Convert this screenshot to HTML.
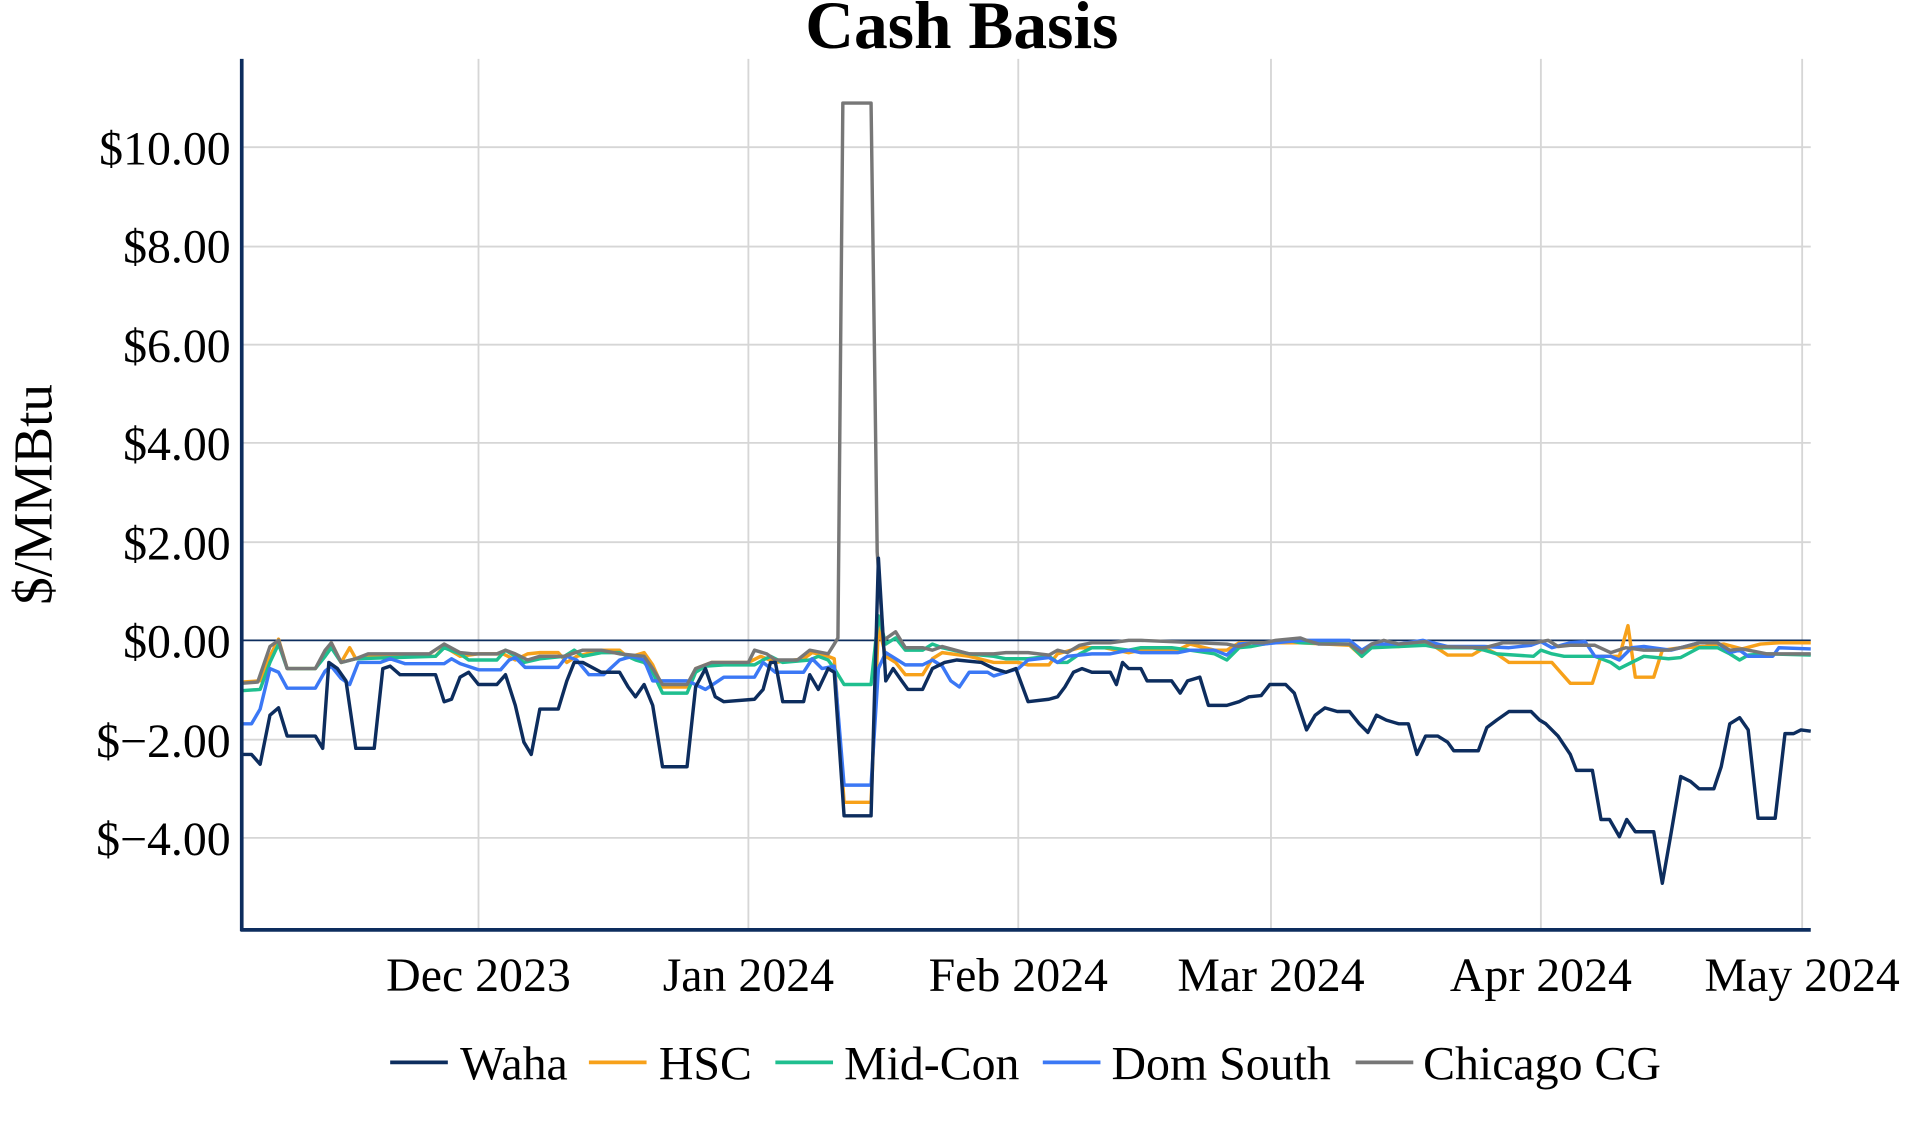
<!DOCTYPE html>
<html><head><meta charset="utf-8"><style>html,body{margin:0;padding:0;background:#fff}svg{display:block}</style></head>
<body>
<svg width="1920" height="1128" viewBox="0 0 1565 919.5" xmlns="http://www.w3.org/2000/svg" font-family="Liberation Serif, serif">
<g stroke="#d6d6d6" stroke-width="1.5">
<line x1="390" y1="48" x2="390" y2="758"/><line x1="610" y1="48" x2="610" y2="758"/><line x1="830" y1="48" x2="830" y2="758"/><line x1="1036" y1="48" x2="1036" y2="758"/><line x1="1256" y1="48" x2="1256" y2="758"/><line x1="1469" y1="48" x2="1469" y2="758"/>
<line x1="197" y1="683" x2="1476" y2="683"/><line x1="197" y1="603" x2="1476" y2="603"/><line x1="197" y1="442" x2="1476" y2="442"/><line x1="197" y1="361" x2="1476" y2="361"/><line x1="197" y1="281" x2="1476" y2="281"/><line x1="197" y1="201" x2="1476" y2="201"/><line x1="197" y1="120" x2="1476" y2="120"/>
</g>
<line x1="197" y1="522" x2="1476" y2="522" stroke="#0d2d5e" stroke-width="1.5"/>
<g fill="none" stroke-width="2.8" stroke-linejoin="round">
<polyline stroke="#f7a11a" points="197,556 212,555 220,535 227,521 234,545 257,545 265,533 270,524 278,540 285,528 290,537 300,535 355,535 362,527 375,535 390,533 410,533 420,538 430,533 440,532 455,532 462,540 470,535 490,530 505,530 512,536 525,532 532,542 540,560 560,560 567,545 580,540 610,540 620,535 632,540 655,537 662,532 675,535 680,537 688,654 710,654 716,510 722,535 730,540 738,550 752,550 760,537 768,532 790,535 810,540 830,540 838,542 855,542 862,533 880,528 900,528 920,532 930,530 960,530 970,525 990,530 1000,530 1010,524 1030,524 1060,524 1100,526 1110,535 1118,527 1140,527 1165,524 1180,534 1200,534 1210,528 1220,533 1230,540 1248,540 1256,540 1265,540 1272,548 1280,557 1298,557 1305,535 1320,535 1327,510 1333,552 1348,552 1355,530 1370,528 1390,527 1405,525 1420,529 1435,525 1450,524 1476,524"/>
<polyline stroke="#1fbf8f" points="197,563 212,562 220,540 227,525 234,545 257,545 265,535 270,528 278,540 290,537 355,535 362,528 375,533 382,538 405,538 412,530 420,535 427,540 440,537 460,535 468,530 475,535 490,532 505,532 518,538 525,540 532,548 540,565 560,565 567,548 575,543 590,542 615,542 622,538 628,535 638,540 660,538 667,535 675,538 680,545 688,558 710,558 716,502 722,525 730,520 738,530 752,530 760,525 768,528 790,533 810,535 820,537 838,537 855,535 862,540 870,540 880,533 890,528 905,528 920,530 930,528 955,528 970,530 990,533 1000,538 1010,528 1020,527 1030,525 1050,522 1060,524 1100,525 1110,535 1118,528 1140,527 1162,526 1172,528 1200,528 1210,530 1220,533 1250,535 1256,530 1265,533 1275,535 1300,535 1313,540 1320,545 1330,540 1340,535 1360,537 1370,536 1385,528 1400,528 1410,533 1418,538 1425,534 1440,533 1476,534"/>
<polyline stroke="#3b78f5" points="197,590 205,590 212,578 220,545 227,548 234,561 257,561 265,547 270,543 278,553 285,558 292,540 310,540 318,537 330,541 362,541 368,537 375,541 390,546 408,546 415,538 420,536 428,544 455,544 462,535 470,538 480,550 492,550 505,538 515,535 525,538 532,555 560,555 567,558 575,562 590,552 615,552 622,540 632,548 655,548 662,537 670,545 680,543 688,640 710,640 716,545 722,532 730,537 738,542 752,542 760,538 768,543 775,555 782,560 790,548 805,548 810,551 820,548 830,545 838,538 855,536 862,540 870,535 890,533 905,533 920,530 930,532 960,532 970,530 990,530 1000,534 1010,525 1020,524 1030,525 1050,523 1060,522 1100,522 1110,530 1118,525 1140,525 1160,522 1180,527 1210,527 1230,528 1248,526 1256,523 1265,528 1280,524 1292,523 1300,535 1313,535 1320,538 1330,528 1340,527 1362,530 1370,528 1385,524 1400,524 1410,532 1418,530 1425,535 1445,535 1450,528 1476,529"/>
<polyline stroke="#777777" points="197,557 210,556 220,527 227,522 234,545 257,545 265,530 270,524 278,540 290,537 300,533 350,533 362,525 375,532 385,533 405,533 412,530 420,533 430,538 440,535 460,535 475,530 490,530 505,533 525,535 532,545 540,558 560,558 567,545 580,540 610,540 615,530 625,533 632,538 650,538 660,530 675,533 680,525 683,520 687,84 710,84 715,450 720,522 730,515 738,528 752,528 760,530 768,527 790,533 810,533 820,532 838,532 855,534 862,530 870,532 880,526 890,524 905,524 920,522 930,522 1000,525 1010,527 1020,524 1030,524 1040,522 1060,520 1065,522 1075,525 1100,525 1110,532 1118,525 1128,522 1140,525 1162,523 1170,527 1210,528 1225,524 1250,524 1262,522 1270,527 1280,526 1300,526 1313,532 1325,528 1340,530 1360,530 1370,528 1385,524 1400,524 1410,530 1420,529 1440,533 1476,533"/>
<polyline stroke="#0d2d5e" points="197,615 205,615 212,623 220,583 227,577 234,600 257,600 263,610 268,540 275,545 282,555 290,610 305,610 312,545 318,543 326,550 355,550 362,572 368,570 375,552 382,548 390,558 405,558 412,550 420,575 427,605 433,615 440,578 455,578 462,555 468,540 475,540 490,548 505,548 512,560 518,568 525,558 532,575 540,625 560,625 567,560 575,545 583,568 590,572 615,570 622,562 628,540 632,540 638,572 655,572 660,550 667,562 675,545 680,548 688,665 710,665 716,455 722,555 728,545 735,555 740,562 752,562 760,545 770,540 780,538 800,540 810,545 820,548 828,545 838,572 855,570 862,568 868,560 875,548 882,545 890,548 905,548 910,558 915,540 920,545 930,545 935,555 955,555 962,565 968,555 978,552 985,575 1000,575 1010,572 1018,568 1028,567 1035,558 1048,558 1055,565 1065,595 1072,583 1080,577 1090,580 1100,580 1108,590 1115,597 1122,583 1130,587 1140,590 1148,590 1155,615 1162,600 1172,600 1180,605 1185,612 1205,612 1212,593 1220,587 1230,580 1248,580 1255,587 1260,590 1270,600 1280,615 1285,628 1298,628 1305,668 1312,668 1320,682 1326,668 1333,678 1348,678 1355,720 1362,680 1370,633 1378,637 1385,643 1397,643 1403,625 1410,590 1418,585 1425,595 1433,667 1447,667 1455,598 1462,598 1468,595 1476,596"/>
</g>
<line x1="197" y1="48" x2="197" y2="759" stroke="#0d2d5e" stroke-width="3"/>
<line x1="196" y1="758" x2="1476" y2="758" stroke="#0d2d5e" stroke-width="3"/>
<text x="784" y="39" text-anchor="middle" font-size="55" font-weight="bold">Cash Basis</text>
<g font-size="39" text-anchor="end">
<text x="188" y="134">$10.00</text><text x="188" y="214">$8.00</text><text x="188" y="295">$6.00</text><text x="188" y="375">$4.00</text><text x="188" y="456">$2.00</text><text x="188" y="536">$0.00</text><text x="188" y="617">$−2.00</text><text x="188" y="697">$−4.00</text>
</g>
<text transform="translate(42,403) rotate(-90)" text-anchor="middle" font-size="45">$/MMBtu</text>
<g font-size="39" text-anchor="middle">
<text x="390" y="808">Dec 2023</text><text x="610" y="808">Jan 2024</text><text x="830" y="808">Feb 2024</text><text x="1036" y="808">Mar 2024</text><text x="1256" y="808">Apr 2024</text><text x="1469" y="808">May 2024</text>
</g>
<g stroke-width="3">
<line x1="318" y1="866" x2="365" y2="866" stroke="#0d2d5e"/><line x1="480" y1="866" x2="527" y2="866" stroke="#f7a11a"/><line x1="632" y1="866" x2="679" y2="866" stroke="#1fbf8f"/><line x1="850" y1="866" x2="897" y2="866" stroke="#3b78f5"/><line x1="1105" y1="866" x2="1152" y2="866" stroke="#777777"/>
</g>
<g font-size="39">
<text x="375" y="880">Waha</text><text x="537" y="880">HSC</text><text x="688" y="880">Mid-Con</text><text x="906" y="880">Dom South</text><text x="1160" y="880">Chicago CG</text>
</g>
</svg>
</body></html>
